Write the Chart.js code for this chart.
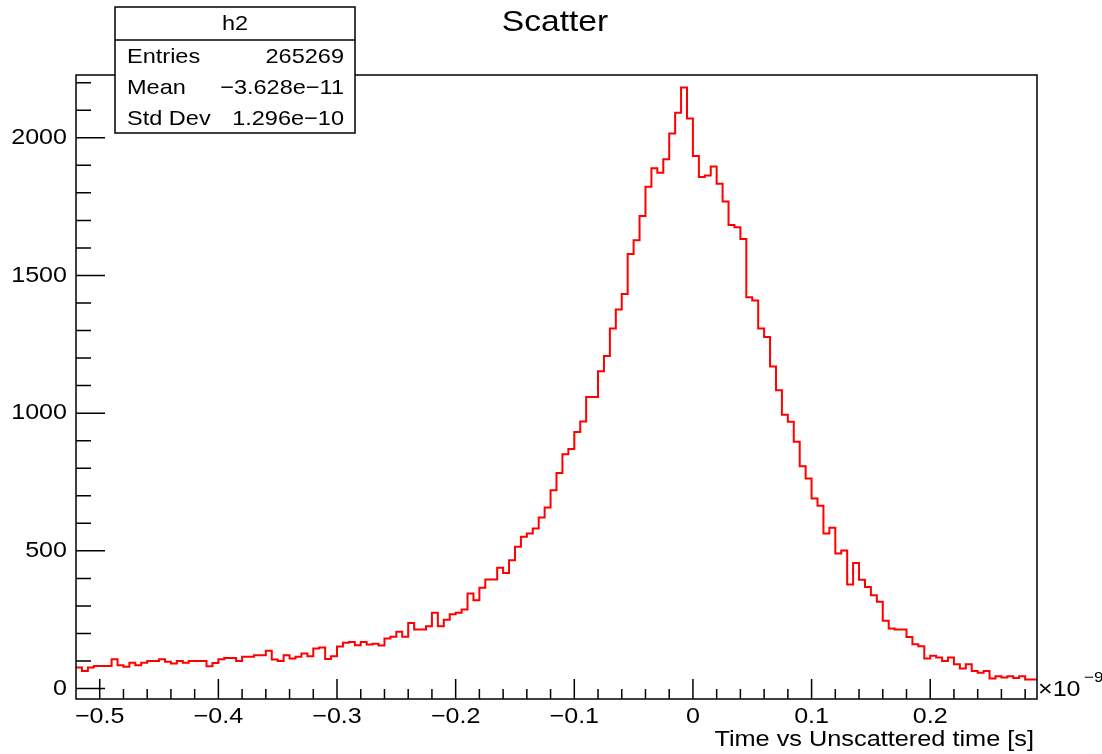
<!DOCTYPE html>
<html>
<head>
<meta charset="utf-8">
<script src="https://cdn.jsdelivr.net/npm/chart.js@4.4.0/dist/chart.umd.min.js"></script>
<style>
  html, body { margin: 0; padding: 0; background: #fff; }
  #wrap { width: 1102px; height: 754px; }
</style>
</head>
<body>
<div id="wrap"><canvas id="histChart" width="1102" height="754"></canvas></div>
<script>
// histogram h2: 162 bins of 0.005e-9 s starting at -0.52e-9 s
const binLow = -0.52;
const binWidth = 0.005;
const counts = [
    76, 64, 76, 82, 82, 82, 106, 85, 79, 94,
    85, 94, 100, 100, 106, 97, 91, 100, 94, 100,
    100, 100, 81, 93, 106, 111, 111, 100, 115, 115,
    121, 121, 137, 105, 100, 121, 109, 115, 127, 117,
    145, 149, 107, 117, 153, 166, 169, 157, 169, 160,
    163, 156, 182, 188, 206, 188, 238, 214, 214, 226,
    275, 226, 250, 270, 275, 287, 345, 321, 366, 396,
    396, 439, 420, 466, 515, 551, 563, 581, 621, 657,
    720, 783, 851, 870, 932, 970, 1059, 1059, 1152, 1208,
    1307, 1376, 1433, 1578, 1628, 1716, 1822, 1889, 1873, 1922,
    2016, 2091, 2183, 2070, 1934, 1858, 1863, 1896, 1833, 1769,
    1683, 1675, 1632, 1421, 1409, 1307, 1277, 1169, 1083, 994,
    969, 896, 807, 763, 690, 664, 563, 584, 490, 501,
    378, 456, 395, 369, 339, 315, 246, 218, 214, 214,
    187, 161, 154, 109, 119, 113, 100, 113, 88, 73,
    88, 64, 57, 64, 36, 45, 40, 45, 38, 45,
    33, 33
];

const xTicks = [-0.5, -0.4, -0.3, -0.2, -0.1, 0, 0.1, 0.2];
const xTickLabels = ['\u22120.5', '\u22120.4', '\u22120.3', '\u22120.2', '\u22120.1', '0', '0.1', '0.2'];
const yTicks = [0, 500, 1000, 1500, 2000];
const yTickLabels = ['0', '500', '1000', '1500', '2000'];

const statLabels = ['Entries', 'Mean', 'Std Dev'];
const statValues = ['265269', '\u22123.628e\u221211', '1.296e\u221210'];

const FONT = '"Liberation Sans", Arial, Helvetica, sans-serif';

// draw text, stretched a little horizontally like the reference
function drawText(ctx, text, x, y, size, align, stretch) {
    ctx.save();
    ctx.font = size + 'px ' + FONT;
    ctx.textBaseline = 'middle';
    ctx.textAlign = align || 'left';
    ctx.translate(x, y);
    ctx.scale(stretch || 1.14, 1);
    ctx.fillText(text, 0, 0);
    ctx.restore();
}

const rootStyle = {
    id: 'rootStyle',
    afterDatasetsDraw(chart) {
        const ctx = chart.ctx;
        const area = chart.chartArea;
        const xs = chart.scales.x;
        const ys = chart.scales.y;

        ctx.save();
        ctx.strokeStyle = '#000';
        ctx.fillStyle = '#000';
        ctx.lineWidth = 1.5;

        // frame
        ctx.strokeRect(area.left, area.top, area.right - area.left, area.bottom - area.top);

        // x ticks (inside, from bottom)
        ctx.beginPath();
        for (let v = -0.52; v <= 0.2901; v += 0.02) {
            const px = xs.getPixelForValue(v);
            if (px <= area.left + 1 || px >= area.right - 1) continue;
            const major = Math.abs(v * 10 - Math.round(v * 10)) < 1e-6;
            ctx.moveTo(px, area.bottom);
            ctx.lineTo(px, area.bottom - (major ? 20 : 10));
        }
        // y ticks (inside, from left)
        for (let v = 0; v <= 2200; v += 100) {
            const py = ys.getPixelForValue(v);
            const major = v % 500 === 0;
            ctx.moveTo(area.left, py);
            ctx.lineTo(area.left + (major ? 29 : 15), py);
        }
        ctx.stroke();

        // tick labels
        xTicks.forEach((v, i) => {
            drawText(ctx, xTickLabels[i], xs.getPixelForValue(v), 717, 22, 'center');
        });
        yTicks.forEach((v, i) => {
            drawText(ctx, yTickLabels[i], 67, ys.getPixelForValue(v), 22, 'right');
        });

        // exponent and axis title
        drawText(ctx, '\u00d710', 1038, 690, 22, 'left');
        drawText(ctx, '\u22129', 1084, 678, 15, 'left');
        drawText(ctx, 'Time vs Unscattered time [s]', 1034, 740, 22, 'right', 1.15);

        // title
        drawText(ctx, 'Scatter', 555, 23, 30, 'center', 1.12);

        // stats box
        const bx = 115, by = 7, bw = 240, bh = 126;
        ctx.fillStyle = '#fff';
        ctx.fillRect(bx, by, bw, bh);
        ctx.lineWidth = 1.5;
        ctx.strokeRect(bx, by, bw, bh);
        ctx.beginPath();
        ctx.moveTo(bx, 40);
        ctx.lineTo(bx + bw, 40);
        ctx.stroke();
        ctx.fillStyle = '#000';
        drawText(ctx, 'h2', bx + bw / 2, 24, 21, 'center', 1.12);
        statLabels.forEach((lab, i) => {
            const y = 57 + i * 31;
            drawText(ctx, lab, 127, y, 21, 'left', 1.12);
            drawText(ctx, statValues[i], 344, y, 21, 'right', 1.12);
        });
        ctx.restore();
    }
};

const points = counts.map((c, i) => ({ x: binLow + i * binWidth, y: c }));
points.push({ x: binLow + counts.length * binWidth, y: counts[counts.length - 1] });

new Chart(document.getElementById('histChart'), {
    type: 'line',
    data: {
        datasets: [{
            label: 'h2',
            data: points,
            borderColor: '#ff0000',
            borderWidth: 2,
            pointRadius: 0,
            stepped: 'before',
            fill: false,
            tension: 0
        }]
    },
    options: {
        responsive: false,
        animation: false,
        devicePixelRatio: 1,
        layout: { padding: { left: 76, right: 65, top: 75, bottom: 55 } },
        plugins: { legend: { display: false }, title: { display: false }, tooltip: { enabled: false } },
        scales: {
            x: { type: 'linear', min: -0.52, max: 0.29, display: false },
            y: { type: 'linear', min: -38, max: 2228, display: false }
        }
    },
    plugins: [rootStyle]
});
</script>
</body>
</html>
